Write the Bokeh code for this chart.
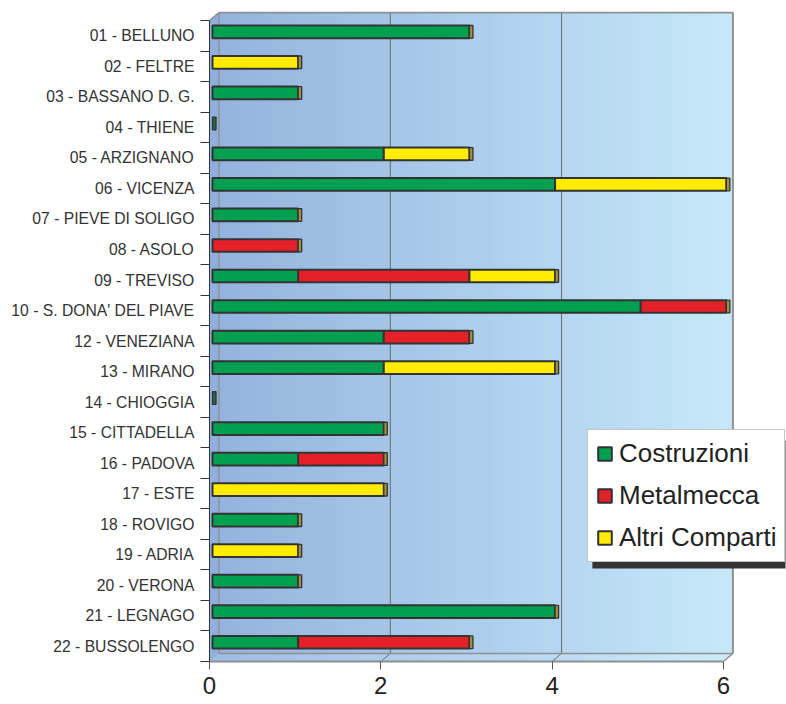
import numpy as np
from bokeh.plotting import figure
from bokeh.models import (Range1d, FixedTicker, ColumnDataSource, Legend,
                          LegendItem, LinearAxis)
from bokeh.embed import file_html
from bokeh.resources import INLINE

# ---------------- data ----------------
categories = ["01 - BELLUNO", "02 - FELTRE", "03 - BASSANO D. G.", "04 - THIENE",
              "05 - ARZIGNANO", "06 - VICENZA", "07 - PIEVE DI SOLIGO", "08 - ASOLO",
              "09 - TREVISO", "10 - S. DONA' DEL PIAVE", "12 - VENEZIANA", "13 - MIRANO",
              "14 - CHIOGGIA", "15 - CITTADELLA", "16 - PADOVA", "17 - ESTE",
              "18 - ROVIGO", "19 - ADRIA", "20 - VERONA", "21 - LEGNAGO", "22 - BUSSOLENGO"]
costruzioni = [3, 0, 1, 0, 2, 4, 1, 0, 1, 5, 2, 2, 0, 2, 1, 0, 1, 0, 1, 4, 1]
metalmecca  = [0, 0, 0, 0, 0, 0, 0, 1, 2, 1, 1, 0, 0, 0, 1, 0, 0, 0, 0, 0, 2]
altri       = [0, 1, 0, 0, 1, 2, 0, 0, 1, 0, 0, 2, 0, 0, 0, 2, 0, 1, 0, 0, 0]
series_names = ["Costruzioni", "Metalmecca", "Altri Comparti"]
series_colors = ["#00a050", "#e42028", "#ffec00"]
x_ticks = [0, 2, 4, 6]
x_max_value = 6

# ---------------- geometry (styling) ----------------
W, H = 786, 704
n = len(categories)
yc = np.array([n - i - 0.5 for i in range(n)])
PX, PY = 85.6, 30.52
L_page, R_page, T_page, B_page = 209.3, 786.0, 11.0, 661.0
xmax = (R_page - L_page) / PX
ymax = (B_page - T_page) / PY
dx, dy = 9.5 / PX, 8.0 / PY          # depth offset of the 3D box
bx, by = 3.0 / PX, 4.0 / PY          # bars drawn at mid depth
bh = 12.7 / PY                       # bar thickness
FONT = "Liberation Sans"

p = figure(width=W, height=H, x_range=Range1d(0, xmax), y_range=Range1d(0, ymax),
           output_backend="svg", toolbar_location=None,
           x_axis_type=None, y_axis_type=None,
           min_border_left=209, min_border_top=11, min_border_right=0,
           min_border_bottom=H - 661)
p.outline_line_color = None
p.background_fill_color = "white"

# ---- back wall gradient
c0 = np.array([148, 180, 223])
c1 = np.array([199, 233, 249])
nstrip = 60
edges = np.linspace(0, x_max_value, nstrip + 1)
cols = []
for k in range(nstrip):
    t = (k + 0.5) / nstrip
    c = (c0 + (c1 - c0) * t).astype(int)
    cols.append("#%02x%02x%02x" % tuple(c))
p.quad(left=edges[:-1] + dx, right=edges[1:] + dx, bottom=dy, top=n + dy,
       fill_color=cols, line_color=cols, line_width=1)

# ---- floor gradient
fc0 = np.array([160, 190, 230])
fc1 = np.array([205, 236, 250])
fcols = []
fxs, fys = [], []
for k in range(nstrip):
    t = (k + 0.5) / nstrip
    c = (fc0 + (fc1 - fc0) * t).astype(int)
    fcols.append("#%02x%02x%02x" % tuple(c))
    e0, e1 = edges[k], edges[k + 1]
    fxs.append([e0, e1, e1 + dx, e0 + dx])
    fys.append([0, 0, dy, dy])
p.patches(xs=fxs, ys=fys, fill_color=fcols, line_color=fcols, line_width=1)

# ---- left side wall
p.patch(x=[0, dx, dx, 0], y=[0, dy, n + dy, n], fill_color="#8fb0dc", line_color=None)

# ---- grid lines on back wall and floor
gx = [g for g in x_ticks if 0 < g < x_max_value]
p.segment(x0=[g + dx for g in gx], y0=dy, x1=[g + dx for g in gx], y1=n + dy,
          line_color="#6a6a6a", line_width=1)
p.segment(x0=gx, y0=0, x1=[g + dx for g in gx], y1=dy, line_color="#6a6a6a", line_width=1)

# ---- box edges
edge_col = "#909090"
p.segment(x0=[dx, x_max_value + dx, 0, dx, dx, x_max_value],
          y0=[n + dy, dy, n, dy, dy, 0],
          x1=[x_max_value + dx, x_max_value + dx, dx, dx, x_max_value + dx, x_max_value + dx],
          y1=[n + dy, n + dy, n + dy, n + dy, dy, dy],
          line_color=edge_col, line_width=[2, 2, 1.5, 1.5, 1.5, 1.5])

# ---- stacked bars
cum = np.zeros(n)
renderers = []
for vals, color in zip([costruzioni, metalmecca, altri], series_colors):
    v = np.array(vals, dtype=float)
    mask = v > 0
    src = ColumnDataSource(dict(left=cum[mask] + bx, right=cum[mask] + v[mask] + bx,
                                bottom=yc[mask] + by - bh / 2, top=yc[mask] + by + bh / 2))
    r = p.quad(left="left", right="right", bottom="bottom", top="top", source=src,
               fill_color=color, line_color="#333333", line_width=2)
    renderers.append(r)
    cum = cum + v

# ---- end caps (3D ends of the bars)
cap_w = 3.5 / PX
cap_cols = ["#a3913c" if t > 0 else "#1e6b45" for t in cum]
p.quad(left=cum + bx, right=cum + bx + cap_w, bottom=yc + by - bh / 2, top=yc + by + bh / 2,
       fill_color=cap_cols, line_color="#333333", line_width=1.3)

# ---- legend shadow
p.quad(left=(592 - L_page) / PX, right=(785 - L_page) / PX,
       bottom=(B_page - 568) / PY, top=(B_page - 440) / PY,
       fill_color="#333333", line_color=None)

legend = Legend(items=[LegendItem(label=nm, renderers=[r]) for nm, r in zip(series_names, renderers)],
                location=(378, 99), orientation="vertical",
                glyph_width=17, glyph_height=17, label_standoff=6,
                label_text_font=FONT, label_text_font_size="26px", label_text_color="#222222",
                label_height=26, spacing=11, padding=8, margin=0,
                border_line_color="#8a8a8a", border_line_width=1,
                background_fill_color="white", background_fill_alpha=1.0)
p.add_layout(legend)

# ---- axes
yaxis = LinearAxis(ticker=FixedTicker(ticks=list(yc), minor_ticks=list(range(n + 1))),
                   bounds=(0, n),
                   major_label_overrides={float(y): c for y, c in zip(yc, categories)})
yaxis.axis_line_color = "#333333"
yaxis.major_tick_out = 0
yaxis.major_tick_in = 0
yaxis.major_tick_line_color = None
yaxis.minor_tick_out = 9
yaxis.minor_tick_in = 0
yaxis.minor_tick_line_color = "#333333"
yaxis.major_label_standoff = 6
yaxis.major_label_text_font = FONT
yaxis.major_label_text_font_size = "15.7px"
yaxis.major_label_text_color = "#333333"
p.add_layout(yaxis, "left")

xaxis = LinearAxis(ticker=FixedTicker(ticks=x_ticks), bounds=(0, x_max_value))
xaxis.axis_line_color = "#8f8f8f"
xaxis.axis_line_width = 2
xaxis.major_tick_out = 8
xaxis.major_tick_in = 0
xaxis.major_tick_line_color = "#555555"
xaxis.minor_tick_line_color = None
xaxis.major_label_standoff = 7
xaxis.major_label_text_font = FONT
xaxis.major_label_text_font_size = "24px"
xaxis.major_label_text_color = "#222222"
p.add_layout(xaxis, "below")

open("out.html", "w").write(file_html(p, INLINE))
